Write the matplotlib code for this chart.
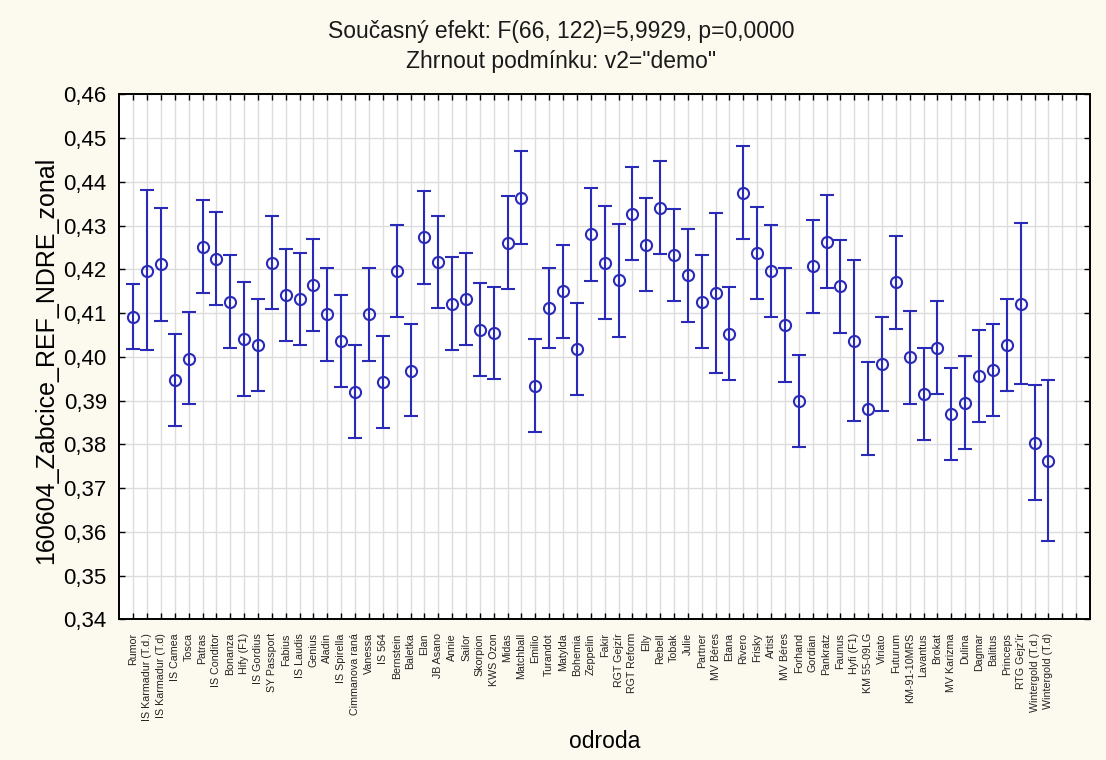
import numpy as np
import matplotlib
matplotlib.use('Agg')
import matplotlib.pyplot as plt

plt.rcParams['font.family'] = ['Liberation Sans', 'DejaVu Sans']

# odrůdy (kategorie na ose x)
odroda = ['Rumor', 'IS Karmadur (T.d.)', 'IS Karmadur (T.d)', 'IS Camea', 'Tosca',
          'Patras', 'IS Conditor', 'Bonanza', 'Hify (F1)', 'IS Gordius',
          'SY Passport', 'Fabius', 'IS Laudis', 'Genius', 'Aladin',
          'IS Spirella', 'Cimmanova raná', 'Vanessa', 'IS 564', 'Bernstein',
          'Baletka', 'Elan', 'JB Asano', 'Annie', 'Sailor',
          'Skorpion', 'KWS Ozon', 'Midas', 'Matchball', 'Emilio',
          'Turandot', 'Matylda', 'Bohemia', 'Zeppelin', 'Fakir',
          'RGT Gejzír', 'RGT Reform', 'Elly', 'Rebell', 'Tobak',
          'Julie', 'Partner', 'MV Béres', 'Etana', 'Rivero',
          'Frisky', 'Artist', 'MV Béres', 'Forhand', 'Gordian',
          'Pankratz', 'Faunus', 'Hyfi (F1)', 'KM 55-09LG', 'Viriato',
          'Futurum', 'KM-91-10MRS', 'Lavantus', 'Brokat', 'MV Karizma',
          'Dulina', 'Dagmar', 'Balitus', 'Princeps', "RTG Gejz'ír",
          'Wintergold (T.d.)', 'Wintergold (T.d)']

# průměry
prumer = [0.4091, 0.4197, 0.4211, 0.3947, 0.3996, 0.4251, 0.4224, 0.4126, 0.4040, 0.4027,
          0.4215, 0.4141, 0.4131, 0.4164, 0.4097, 0.4036, 0.3919, 0.4097, 0.3943, 0.4195,
          0.3968, 0.4273, 0.4217, 0.4120, 0.4133, 0.4062, 0.4055, 0.4261, 0.4363, 0.3934,
          0.4112, 0.4150, 0.4017, 0.4280, 0.4214, 0.4175, 0.4327, 0.4256, 0.4341, 0.4232,
          0.4186, 0.4126, 0.4145, 0.4053, 0.4375, 0.4237, 0.4196, 0.4073, 0.3899, 0.4207,
          0.4263, 0.4162, 0.4037, 0.3881, 0.3983, 0.4170, 0.3999, 0.3915, 0.4021, 0.3869,
          0.3895, 0.3956, 0.3969, 0.4027, 0.4121, 0.3802, 0.3762]

# dolní a horní mez intervalu spolehlivosti
dolni = [0.4017, 0.4015, 0.4082, 0.3842, 0.3892, 0.4146, 0.4119, 0.4020, 0.3911, 0.3921,
         0.4109, 0.4036, 0.4026, 0.4059, 0.3991, 0.3932, 0.3814, 0.3991, 0.3838, 0.4090,
         0.3864, 0.4166, 0.4111, 0.4016, 0.4027, 0.3957, 0.3949, 0.4156, 0.4258, 0.3829,
         0.4021, 0.4044, 0.3912, 0.4173, 0.4086, 0.4045, 0.4222, 0.4150, 0.4236, 0.4127,
         0.4080, 0.4020, 0.3962, 0.3948, 0.4270, 0.4131, 0.4091, 0.3943, 0.3793, 0.4101,
         0.4157, 0.4055, 0.3854, 0.3775, 0.3877, 0.4064, 0.3892, 0.3809, 0.3916, 0.3763,
         0.3789, 0.3850, 0.3864, 0.3922, 0.3938, 0.3672, 0.3578]

horni = [0.4167, 0.4382, 0.4341, 0.4053, 0.4102, 0.4358, 0.4330, 0.4233, 0.4170, 0.4133,
         0.4321, 0.4246, 0.4237, 0.4270, 0.4202, 0.4142, 0.4026, 0.4203, 0.4048, 0.4302,
         0.4075, 0.4378, 0.4322, 0.4227, 0.4237, 0.4169, 0.4160, 0.4367, 0.4470, 0.4040,
         0.4203, 0.4256, 0.4123, 0.4386, 0.4344, 0.4304, 0.4433, 0.4362, 0.4448, 0.4338,
         0.4291, 0.4232, 0.4328, 0.4159, 0.4481, 0.4342, 0.4302, 0.4203, 0.4004, 0.4313,
         0.4370, 0.4267, 0.4221, 0.3987, 0.4090, 0.4277, 0.4105, 0.4021, 0.4128, 0.3975,
         0.4002, 0.4062, 0.4076, 0.4133, 0.4305, 0.3936, 0.3948]

y_ticks = [0.34, 0.35, 0.36, 0.37, 0.38, 0.39, 0.40, 0.41, 0.42, 0.43, 0.44, 0.45, 0.46]

modra = '#2a2ab8'
W, H = 1106, 760

fig = plt.figure(figsize=(W / 100, H / 100), dpi=100, facecolor='#fcf9ef')
ax = fig.add_axes([119.3 / W, 1 - 619.3 / H, 970.7 / W, 525 / H])
ax.set_facecolor('white')

x = np.arange(1, len(odroda) + 1)
m = np.array(prumer)
lo = np.array(dolni)
hi = np.array(horni)

ax.errorbar(x, m, yerr=[m - lo, hi - m], fmt='o', mfc='none', mec=modra, mew=1.5,
            ms=8, ecolor=modra, elinewidth=1.5, capsize=4.7, capthick=1.5, zorder=3)

ax.set_xlim(0, 70)
ax.set_ylim(0.34, 0.46)
ax.set_xticks(range(1, 70))
ax.set_xticklabels(odroda + ['', ''], rotation=90, fontsize=7.7, color='#222222')
ax.set_yticks(y_ticks)
ax.set_yticklabels([('%.2f' % v).replace('.', ',') for v in y_ticks], fontsize=16)

ax.grid(True, color='#dcdcdc', linewidth=1)
ax.set_axisbelow(True)
ax.tick_params(direction='in', top=True, right=True, length=4, width=1)
ax.tick_params(axis='y', pad=9)
ax.tick_params(axis='x', pad=10)
for s in ax.spines.values():
    s.set_linewidth(1.4)

fig.text(561 / W, 1 - 38.3 / H, 'Současný efekt: F(66, 122)=5,9929, p=0,0000',
         ha='center', va='baseline', fontsize=16.5, color='#1a1a1a')
fig.text(561 / W, 1 - 67.7 / H, 'Zhrnout podmínku: v2="demo"',
         ha='center', va='baseline', fontsize=16.5, color='#1a1a1a')
fig.text(46 / W, 1 - 360 / H, '160604_Zabcice_REF_NDRE_zonal', rotation=90,
         ha='center', va='center', fontsize=18)
fig.text(604.6 / W, 1 - 748 / H, 'odroda', ha='center', va='baseline', fontsize=16.5)

fig.savefig('out.png', dpi=100, facecolor=fig.get_facecolor())
